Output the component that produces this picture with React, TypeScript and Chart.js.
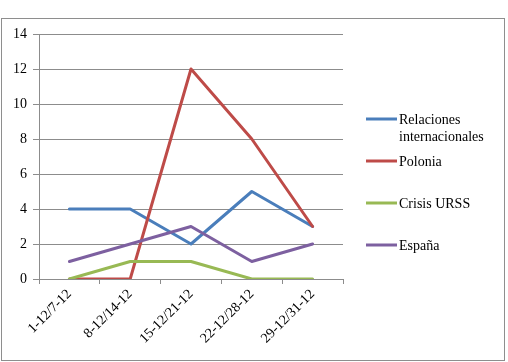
import { useEffect, useRef } from "react";
import { Chart, registerables } from "chart.js";

Chart.register(...registerables);

// Weekly periods (December)
const categories = ["1-12/7-12", "8-12/14-12", "15-12/21-12", "22-12/28-12", "29-12/31-12"];

// Series values per period
const relacionesInternacionales = [4, 4, 2, 5, 3];
const polonia = [0, 0, 12, 8, 3];
const crisisURSS = [0, 1, 1, 0, 0];
const espana = [1, 2, 3, 1, 2];

// Legend labels (split into display lines)
const legendLabels = [["Relaciones", "internacionales"], ["Polonia"], ["Crisis URSS"], ["España"]];

// Y axis range
const yMin = 0;
const yMax = 14;
const yStep = 2;

const FONT = "\"Liberation Serif\"";
const GRID = "#8c8c8c";

const framePlugin = {
  id: "outerFrame",
  afterDraw(chart: any) {
    const ctx = chart.ctx;
    ctx.save();
    ctx.strokeStyle = "#8e8e8e";
    ctx.lineWidth = 1;
    ctx.strokeRect(1.5, 18.5, 503, 342);
    ctx.restore();
  },
};

const sideLegendPlugin = {
  id: "sideLegend",
  afterDraw(chart: any) {
    const ctx = chart.ctx;
    const x0 = chart.chartArea.right + 23;
    ctx.save();
    ctx.font = `14px ${FONT}`;
    ctx.textBaseline = "middle";
    ctx.textAlign = "left";
    ctx.fillStyle = "#000";
    chart.data.datasets.forEach((ds: any, i: number) => {
      const y = 119 + 42 * i;
      ctx.strokeStyle = ds.borderColor;
      ctx.lineWidth = 3;
      ctx.lineCap = "butt";
      ctx.beginPath();
      ctx.moveTo(x0, y);
      ctx.lineTo(x0 + 31, y);
      ctx.stroke();
      legendLabels[i].forEach((line, j) => {
        ctx.fillText(line, x0 + 33, y + 1 + 17 * j);
      });
    });
    ctx.restore();
  },
};

export default function App() {
  const ref = useRef<HTMLCanvasElement>(null);

  useEffect(() => {
    let chart: Chart | null = null;
    let cancelled = false;
    const mk = (label: string, data: number[], color: string, order: number) => ({
      label,
      data,
      borderColor: color,
      backgroundColor: color,
      borderWidth: 3,
      pointRadius: 0,
      tension: 0,
      borderJoinStyle: "round" as const,
      borderCapStyle: "round" as const,
      order,
    });
    const build = () => {
      if (cancelled || !ref.current) return;
      chart = new Chart(ref.current, {
        type: "line",
        data: {
          labels: categories,
          datasets: [
            mk("Relaciones internacionales", relacionesInternacionales, "#4A7EBB", 4),
            mk("Polonia", polonia, "#BE4B48", 3),
            mk("Crisis URSS", crisisURSS, "#98B954", 2),
            mk("España", espana, "#7D60A0", 1),
          ],
        },
        options: {
          responsive: false,
          animation: false,
          layout: { padding: { left: 0, top: 34, right: 165, bottom: 0 } },
          plugins: { legend: { display: false }, tooltip: { enabled: false } },
          scales: {
            x: {
              offset: true,
              grid: { drawOnChartArea: false, drawTicks: true, tickLength: 5, color: GRID, offset: true },
              border: { display: true, color: GRID, width: 1 },
              ticks: {
                color: "#000",
                font: { family: FONT, size: 14 },
                minRotation: 45,
                maxRotation: 45,
                autoSkip: false,
                padding: 2,
              },
              afterFit(scale: any) {
                scale.height = 83;
              },
            },
            y: {
              min: yMin,
              max: yMax,
              grid: { color: GRID, tickLength: 6, drawTicks: true },
              border: { display: true, color: GRID, width: 1 },
              ticks: {
                stepSize: yStep,
                color: "#000",
                font: { family: FONT, size: 14 },
                padding: 6,
              },
              afterFit(scale: any) {
                scale.width = 39;
              },
            },
          },
        },
        plugins: [framePlugin, sideLegendPlugin],
      });
    };
    const fonts = (document as any).fonts;
    if (fonts && fonts.load) {
      fonts.load(`14px ${FONT}`).then(build, build);
    } else {
      build();
    }
    return () => {
      cancelled = true;
      if (chart) chart.destroy();
    };
  }, []);

  return (
    <div style={{ position: "absolute", left: 0, top: 0, width: 508, height: 362, background: "#fff" }}>
      <canvas ref={ref} width={508} height={362} style={{ display: "block" }} />
      <span style={{ position: "absolute", left: -9999, top: 0, fontFamily: FONT, fontSize: 14 }}>España 0123456789</span>
    </div>
  );
}
